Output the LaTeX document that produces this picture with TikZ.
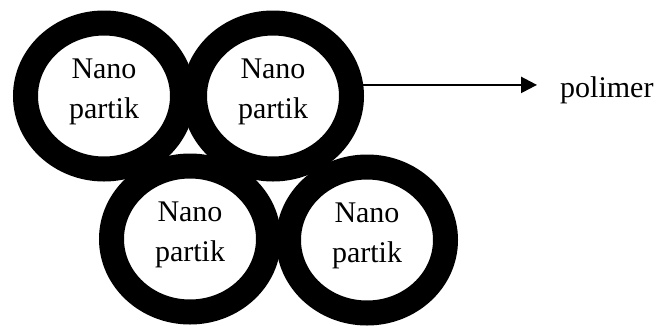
\documentclass[tikz,border=0pt]{standalone}
\usepackage{fontspec}
\setmainfont{Liberation Serif}
\usetikzlibrary{shapes.geometric,arrows.meta}
\begin{document}
\begin{tikzpicture}[x=1pt,y=-1pt,
  ring/.style={draw=black,ellipse,line width=25pt,minimum width=157pt,
    minimum height=146pt,inner sep=0pt},
  lbl/.style={align=center,inner sep=0pt,font=\fontsize{30}{40}\selectfont},
  link/.style={line width=2.4pt,-{Triangle[length=16pt,width=16pt]}}]
  \useasboundingbox (0,0) rectangle (662,325);

  % four particles, each a thick black shell
  \node[ring] (r1) at (104,96) {};
  \node[ring] (r2) at (273,96) {};
  \node[ring] (r3) at (190,239) {};
  \node[ring] (r4) at (367,240) {};

  % particle labels
  \node[lbl] (t1) at (104,92) {Nano\\partik};
  \node[lbl] (t2) at (273,92) {Nano\\partik};
  \node[lbl] (t3) at (190,235) {Nano\\partik};
  \node[lbl] (t4) at (367,236) {Nano\\partik};

  % shell label with pointer
  \node[lbl,anchor=base west] (pol) at (560,97) {polimer};
  \draw[link,shorten >=23pt] (r2.7.5) -- (r2.7.5 -| pol.west);
\end{tikzpicture}
\end{document}
